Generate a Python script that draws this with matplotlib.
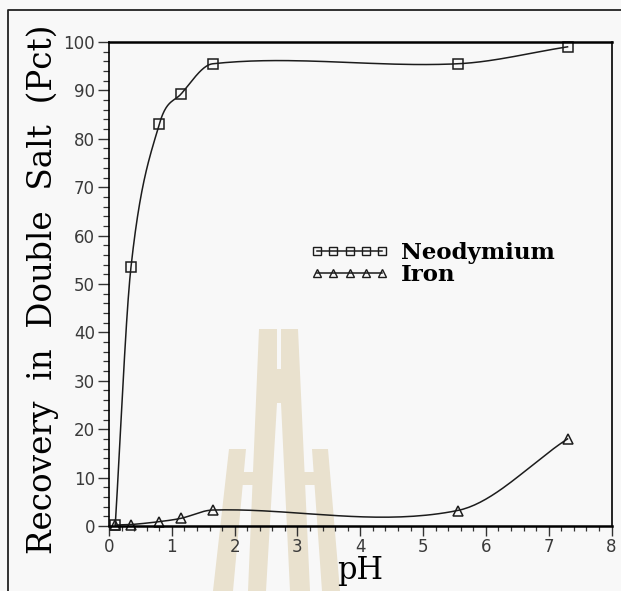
import numpy as np
import matplotlib
matplotlib.use("Agg")
import matplotlib.pyplot as plt
from matplotlib.patches import Polygon
from matplotlib.lines import Line2D

# data
ph = [0.1, 0.35, 0.8, 1.15, 1.65, 5.55, 7.3]
neodymium = [0.3, 53.5, 83.0, 89.3, 95.5, 95.5, 99.0]
iron = [0.2, 0.3, 0.9, 1.6, 3.3, 3.2, 18.0]
x_ticks = [0, 1, 2, 3, 4, 5, 6, 7, 8]
y_ticks = [0, 10, 20, 30, 40, 50, 60, 70, 80, 90, 100]

W, H = 621, 591
INK = "#1c1c1c"


def smooth(x, y, n=40):
    # cardinal (Catmull-Rom style) hermite curve through the points
    x = np.asarray(x, float)
    y = np.asarray(y, float)
    m = np.zeros_like(y)
    m[1:-1] = (y[2:] - y[:-2]) / (x[2:] - x[:-2])
    m[0] = (y[1] - y[0]) / (x[1] - x[0])
    m[-1] = (y[-1] - y[-2]) / (x[-1] - x[-2])
    xs, ys = [], []
    for i in range(len(x) - 1):
        h = x[i + 1] - x[i]
        t = np.linspace(0, 1, n)
        h00 = 2 * t**3 - 3 * t**2 + 1
        h10 = t**3 - 2 * t**2 + t
        h01 = -2 * t**3 + 3 * t**2
        h11 = t**3 - t**2
        xs.append(x[i] + t * h)
        ys.append(h00 * y[i] + h10 * h * m[i] + h01 * y[i + 1] + h11 * h * m[i + 1])
    return np.concatenate(xs), np.concatenate(ys)


def px(points):
    return [(a / W, 1 - b / H) for a, b in points]


fig = plt.figure(figsize=(6.21, 5.91), dpi=100, facecolor="#f8f8f8")

# watermark (drawn behind everything)
tan = "#e9e1ce"
shapes = [
    [(259, 329), (277, 329), (277, 369), (281, 369), (281, 329), (298, 329),
     (310, 591), (290, 591), (281, 403), (277, 403), (266, 591), (248, 591)],
    [(229, 449), (246, 449), (233, 591), (213, 591)],
    [(312, 449), (328, 449), (340, 591), (322, 591)],
    [(240, 472), (257, 472), (257, 485), (240, 485)],
    [(301, 472), (318, 472), (318, 485), (301, 485)],
]
for s in shapes:
    fig.add_artist(Polygon(px(s), closed=True, facecolor=tan, edgecolor="none", zorder=0))

# outer frame of the scanned page
fig.add_artist(Line2D([8 / W, 8 / W, 1], [0, 1 - 10 / H, 1 - 10 / H], color="#222222", lw=1.3))

ax = fig.add_axes([109 / W, 65 / H, 502.5 / W, 484 / H])
ax.set_facecolor("none")

xs, ys = smooth(ph, neodymium)
ax.plot(xs, ys, color=INK, lw=1.1)
xs, ys = smooth(ph, iron)
ax.plot(xs, ys, color=INK, lw=1.1)
ax.plot(ph, neodymium, ls="none", marker="s", ms=7, mfc="none", mec=INK, mew=1.1, clip_on=False)
ax.plot(ph, iron, ls="none", marker="^", ms=7, mfc="none", mec=INK, mew=1.1, clip_on=False)

ax.set_xlim(0, 8)
ax.set_ylim(0, 100)
ax.set_xticks(x_ticks)
ax.set_yticks(y_ticks)
ax.set_xticks(np.arange(0, 8.01, 0.2), minor=True)
ax.set_yticks(np.arange(0, 100.1, 2), minor=True)
ax.tick_params(which="major", width=1.0, color="#333333", labelsize=12, labelcolor="#3a3a3a", pad=2)
ax.tick_params(axis="y", which="major", length=8)
ax.tick_params(axis="x", which="major", length=7)
ax.tick_params(axis="y", which="minor", length=4.5, width=0.9, color="#333333")
ax.tick_params(axis="x", which="minor", length=3.5, width=0.9, color="#333333")
for side in ["top", "bottom"]:
    ax.spines[side].set_linewidth(1.8)
for side in ["left", "right"]:
    ax.spines[side].set_linewidth(1.2)

ax.set_xlabel("pH", family="DejaVu Serif", fontsize=22)
ax.xaxis.set_label_coords(0.5, -0.06)
ax.set_ylabel("Recovery  in  Double  Salt  (Pct)", family="DejaVu Serif", fontsize=23.5)
ax.yaxis.set_label_coords(-0.099, 0.49)

handles = [
    Line2D([], [], color=INK, lw=1.1, marker="s", ms=6, mfc="none", mec=INK),
    Line2D([], [], color=INK, lw=1.1, marker="^", ms=6, mfc="none", mec=INK),
]
ax.legend(handles, ["Neodymium", "Iron"], numpoints=5, handlelength=3.45, frameon=False,
          loc="upper left", bbox_to_anchor=(0.400, 0.586), borderpad=0, borderaxespad=0,
          labelspacing=0.0, handletextpad=0.5,
          prop={"family": "DejaVu Serif", "weight": "bold", "size": 16.5})

fig.savefig("out.png", dpi=100, facecolor=fig.get_facecolor())
